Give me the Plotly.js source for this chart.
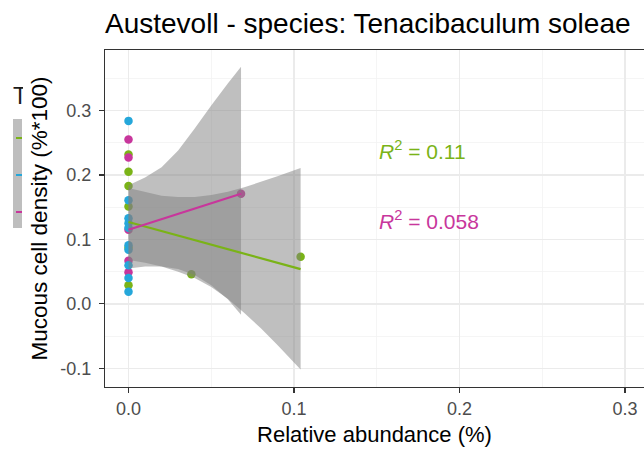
<!DOCTYPE html>
<html><head><meta charset="utf-8">
<script src="https://cdn.plot.ly/plotly-3.0.1.min.js"></script>
<style>html,body{margin:0;padding:0;background:#fff}#chart{width:644px;height:449px}</style>
</head><body><div id="chart"></div>
<script>
// ---- data ----
const seriesNames = ['Group A', 'Group B', 'Group C'];
const seriesColors = ['#7AB317', '#25A7DA', '#C8369C'];

const greenX = [0, 0, 0, 0, 0, 0, 0.038, 0.104];
const greenY = [0.232, 0.205, 0.183, 0.151, 0.087, 0.029, 0.046, 0.073];
const blueX = [0, 0, 0, 0, 0, 0, 0, 0, 0, 0];
const blueY = [0.284, 0.161, 0.133, 0.125, 0.118, 0.091, 0.084, 0.060, 0.040, 0.019];
const magentaX = [0, 0, 0, 0, 0, 0.068];
const magentaY = [0.255, 0.227, 0.115, 0.067, 0.049, 0.171];

const greenFitX = [0, 0.104];
const greenFitY = [0.127, 0.054];
const magentaFitX = [0, 0.068];
const magentaFitY = [0.115, 0.171];

const greenBandX = [0, 0.01, 0.02, 0.03, 0.04, 0.05, 0.06, 0.07, 0.08, 0.09, 0.104];
const greenBandUpper = [0.180, 0.174, 0.168, 0.166, 0.166, 0.169, 0.174, 0.181, 0.189, 0.198, 0.211];
const greenBandLower = [0.068, 0.064, 0.058, 0.050, 0.040, 0.026, 0.008, -0.014, -0.038, -0.064, -0.102];
const magentaBandX = [0, 0.01, 0.02, 0.03, 0.04, 0.05, 0.06, 0.068];
const magentaBandUpper = [0.184, 0.196, 0.212, 0.238, 0.272, 0.308, 0.342, 0.368];
const magentaBandLower = [0.055, 0.058, 0.058, 0.054, 0.045, 0.029, 0.007, -0.017];

const r2Labels = ['0.11', '0.058'];
const r2X = [0.15, 0.15];
const r2Y = [0.239, 0.130];
const r2Colors = [seriesColors[0], seriesColors[2]];

const xTickVals = [0, 0.1, 0.2, 0.3];
const xTickText = ['0.0', '0.1', '0.2', '0.3'];
const yTickVals = [-0.1, 0, 0.1, 0.2, 0.3];
const yTickText = ['-0.1', '0.0', '0.1', '0.2', '0.3'];

const titleText = 'Austevoll - species: Tenacibaculum soleae';
const xTitle = 'Relative abundance (%)';
const yTitle = 'Mucous cell density (%*100)';
const legendTitleFragment = 'T';

// ---- build ----
const FONT = 'Liberation Sans, Arial, sans-serif';
function pts(x, y, i) {
  return {type: 'scatter', mode: 'markers', x: x, y: y, name: seriesNames[i], showlegend: false,
    marker: {color: seriesColors[i], size: 8.5, line: {width: 0}}, hoverinfo: 'skip', cliponaxis: true};
}
function band(x, up, lo) {
  return {type: 'scatter', mode: 'lines', x: x.concat(x.slice().reverse()),
    y: up.concat(lo.slice().reverse()), fill: 'toself', fillcolor: 'rgba(128,128,128,0.5)',
    line: {width: 0}, showlegend: false, hoverinfo: 'skip'};
}
function fit(x, y, i) {
  return {type: 'scatter', mode: 'lines', x: x, y: y, showlegend: false,
    line: {color: seriesColors[i], width: 2.2}, hoverinfo: 'skip'};
}
const data = [
  pts(greenX, greenY, 0), pts(magentaX, magentaY, 2), pts(blueX, blueY, 1),
  band(greenBandX, greenBandUpper, greenBandLower),
  band(magentaBandX, magentaBandUpper, magentaBandLower),
  fit(greenFitX, greenFitY, 0), fit(magentaFitX, magentaFitY, 2)
];

// pixel helpers for the cropped legend fragment (plot area: x 105..644, y 50..387)
const L = 105, W = 539, T = 50, H = 337;
const px = v => (v - L) / W, py = v => 1 - (v - T) / H;

const shapes = [
  {type: 'rect', xref: 'paper', yref: 'paper', x0: px(13), x1: px(22), y0: py(228), y1: py(119),
   fillcolor: '#BEBEBE', line: {width: 0}, layer: 'above'}
];
const keyY = [138, 175, 212];
[0, 1, 2].forEach(i => shapes.push({type: 'line', xref: 'paper', yref: 'paper',
  x0: px(16), x1: px(22), y0: py(keyY[i]), y1: py(keyY[i]), line: {color: seriesColors[i], width: 2}}));

const annotations = r2Labels.map((t, i) => ({
  x: r2X[i], y: r2Y[i], xref: 'x', yref: 'y', xanchor: 'left', yanchor: 'middle', showarrow: false,
  text: '<i>R</i><sup>2</sup> = ' + t, font: {family: FONT, size: 21, color: r2Colors[i]}
}));
annotations.push({xref: 'paper', yref: 'paper', x: px(12), y: py(96), xanchor: 'left', yanchor: 'middle',
  showarrow: false, text: legendTitleFragment, width: 10, align: 'left', borderpad: 0,
  font: {family: FONT, size: 23, color: '#1a1a1a'}});

const axisCommon = {
  showline: true, linecolor: '#333333', linewidth: 1.2, ticks: 'outside', ticklen: 5,
  tickcolor: '#333333', tickwidth: 1.2, showgrid: true, gridcolor: '#EBEBEB', gridwidth: 1.4,
  zeroline: false, tickfont: {family: FONT, size: 18, color: '#4D4D4D'}
};
const layout = {
  width: 644, height: 449, paper_bgcolor: '#fff', plot_bgcolor: '#fff',
  margin: {l: 105, r: 0, t: 50, b: 62},
  showlegend: false, hovermode: false,
  title: {text: titleText, xref: 'paper', x: 0, xanchor: 'left', yref: 'container', y: 1 - 23 / 449,
    yanchor: 'middle', font: {family: FONT, size: 28, color: '#000'}},
  xaxis: Object.assign({}, axisCommon, {range: [-0.0142, 0.3115], tickvals: xTickVals, ticktext: xTickText,
    mirror: true, minor: {dtick: 0.05, tick0: 0, showgrid: true, gridcolor: '#F2F2F2', gridwidth: 0.8, ticks: ''},
    title: {text: xTitle, standoff: 8, font: {family: FONT, size: 22, color: '#000'}}}),
  yaxis: Object.assign({}, axisCommon, {range: [-0.129, 0.394], tickvals: yTickVals, ticktext: yTickText,
    ticklabelstandoff: 4,
    minor: {dtick: 0.05, tick0: 0, showgrid: true, gridcolor: '#F2F2F2', gridwidth: 0.8, ticks: ''},
    title: {text: yTitle, standoff: 6, font: {family: FONT, size: 22.5, color: '#000'}}}),
  shapes: shapes, annotations: annotations
};
Plotly.newPlot('chart', data, layout, {displayModeBar: false, staticPlot: true});
</script></body></html>
